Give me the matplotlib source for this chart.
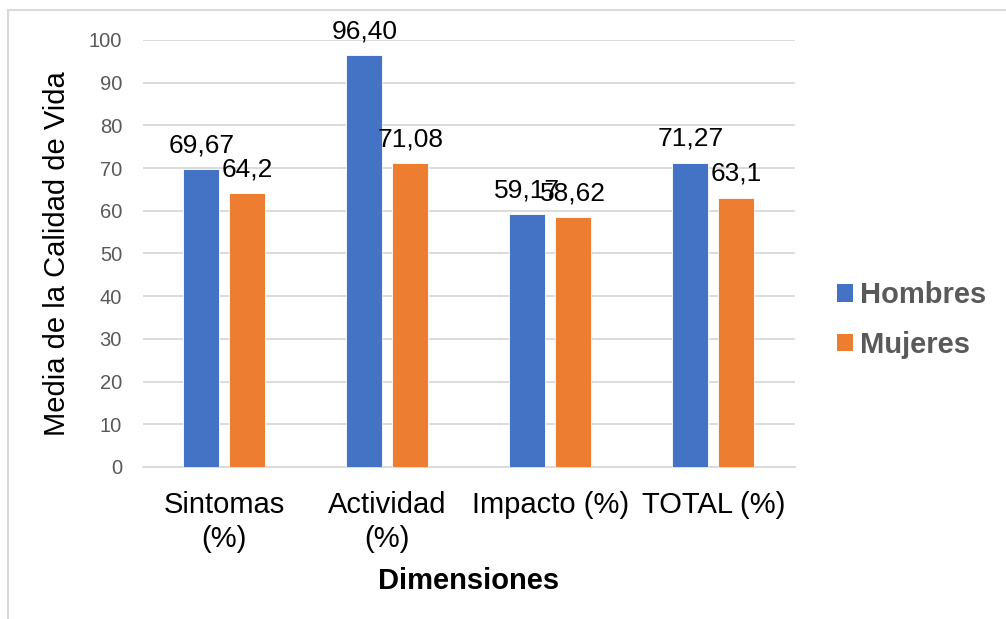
import numpy as np
import matplotlib
matplotlib.use("Agg")
import matplotlib.pyplot as plt
from matplotlib.patches import Rectangle, Patch

plt.rcParams['font.family'] = ['Liberation Sans', 'DejaVu Sans']

# data
categorias = ["Sintomas\n(%)", "Actividad\n(%)", "Impacto (%)", "TOTAL (%)"]
hombres = [69.67, 96.40, 59.17, 71.27]
mujeres = [64.2, 71.08, 58.62, 63.1]
etiquetas_hombres = ["69,67", "96,40", "59,17", "71,27"]
etiquetas_mujeres = ["64,2", "71,08", "58,62", "63,1"]
series = ["Hombres", "Mujeres"]

azul = "#4472C4"
naranja = "#ED7D31"
gris_txt = "#595959"
gris_linea = "#D9D9D9"

fig = plt.figure(figsize=(10.06, 6.19), dpi=100)
ax = fig.add_axes([0.142, 0.2456, 0.648, 0.6898])

# light frame round the chart
fig.patches.append(Rectangle((8 / 1006, -0.01), 1.0, 1 - 10 / 619 + 0.01,
                             transform=fig.transFigure, fill=False,
                             edgecolor="#D9D9D9", linewidth=1.5))

x = np.arange(len(categorias))
ancho = 0.22
desp = 0.141
b1 = ax.bar(x - desp, hombres, ancho, color=azul, edgecolor="white", linewidth=0.6, zorder=3)
b2 = ax.bar(x + desp, mujeres, ancho, color=naranja, edgecolor="white", linewidth=0.6, zorder=3)

for barras, textos in ((b1, etiquetas_hombres), (b2, etiquetas_mujeres)):
    for b, t in zip(barras, textos):
        ax.annotate(t, (b.get_x() + b.get_width() / 2, b.get_height()),
                    xytext=(0, 12), textcoords="offset points",
                    ha="center", va="baseline", fontsize=19, color="black", zorder=5)

ax.set_xlim(-0.5, 3.5)
ax.set_ylim(0, 100)
ax.set_yticks(np.arange(0, 101, 10))
ax.yaxis.grid(True, color=gris_linea, linewidth=1.3, zorder=0)
ax.set_axisbelow(True)
for s in ("top", "right", "left"):
    ax.spines[s].set_visible(False)
ax.spines["bottom"].set_color(gris_linea)
ax.spines["bottom"].set_linewidth(1.3)
ax.tick_params(axis="both", length=0)
ax.tick_params(axis="y", labelsize=14.5, labelcolor=gris_txt, pad=15)
ax.set_xticks(x)
ax.set_xticklabels(categorias, fontsize=21, color="black", linespacing=1.28)
ax.tick_params(axis="x", pad=17)

ax.set_ylabel("Media de la Calidad de Vida", fontsize=21, color="black", labelpad=13)
ax.set_xlabel("Dimensiones", fontsize=21, fontweight="bold", color="black", labelpad=10)

handles = [Patch(facecolor=azul), Patch(facecolor=naranja)]
leg = fig.legend(handles, series, loc="center left", bbox_to_anchor=(0.806, 0.483),
                 frameon=False, handlelength=0.55, handleheight=0.55, handletextpad=0.25,
                 labelspacing=0.75, prop={"size": 21, "weight": "bold"})
for t in leg.get_texts():
    t.set_color(gris_txt)

fig.savefig("out.png", dpi=100)
